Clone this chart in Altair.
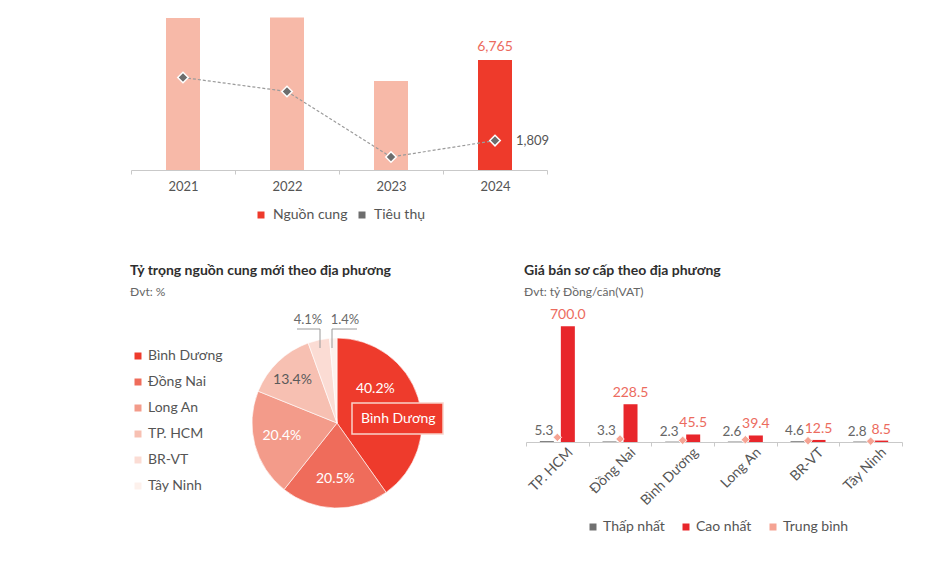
import altair as alt
import pandas as pd

FONT = "Lato"

# ---------------- data ----------------
years = ["2021", "2022", "2023", "2024"]
supply = [9350, 9380, 5470, 6765]          # Nguồn cung
absorption = [5690, 4830, 800, 1809]       # Tiêu thụ

pie_regions = ["Bình Dương", "Đồng Nai", "Long An", "TP. HCM", "BR-VT", "Tây Ninh"]
pie_share = [40.2, 20.5, 20.4, 13.4, 4.1, 1.4]

price_regions = ["TP. HCM", "Đồng Nai", "Bình Dương", "Long An", "BR-VT", "Tây Ninh"]
price_min = [5.3, 3.3, 2.3, 2.6, 4.6, 2.8]
price_max = [700.0, 228.5, 45.5, 39.4, 12.5, 8.5]
price_avg = [28, 18, 10, 14, 8, 5]          # estimated (unlabelled)
price_series = ["Thấp nhất", "Cao nhất", "Trung bình"]

# ---------------- styles ----------------
W, H = 924, 554
RED = "#ee3a2b"
LIGHT = "#f7b9a8"
GRAY = "#6d6d6d"
LBL_RED = "#ec6b5e"
TXT = "#555555"
PIE_COLORS = ["#ee3b2c", "#ef6c5b", "#f39b8a", "#f7c0b2", "#fbdcd4", "#fdf1ec"]
PRICE_COLORS = ["#707070", "#e8262b", "#f5a393"]

top_df = pd.DataFrame({"year": years, "supply": supply, "absorption": absorption})
pie_df = pd.DataFrame({"region": pie_regions, "share": pie_share,
                       "idx": list(range(len(pie_regions)))})
rows = []
for r, lo, hi, av in zip(price_regions, price_min, price_max, price_avg):
    rows.append({"region": r, "series": "Thấp nhất", "value": lo})
    rows.append({"region": r, "series": "Cao nhất", "value": hi})
    rows.append({"region": r, "series": "Trung bình", "value": av})
price_df = pd.DataFrame(rows)

# ---------------- top chart ----------------
top_base_y = 162
top_x = alt.X("year:N",
              scale=alt.Scale(domain=years, range=[123, 539], paddingInner=0, paddingOuter=0),
              axis=alt.Axis(orient="bottom", offset=top_base_y - H, title=None, labelAngle=0,
                            labelFont=FONT, labelFontSize=13, labelColor=TXT, labelPadding=6,
                            domainColor="#c9c9c9", tickColor="#c9c9c9", tickSize=4,
                            tickBand="extent", grid=False))
top_ys = alt.Scale(domain=[0, 10000], range=[top_base_y, -0.6], nice=False)
top_color = alt.Color("series:N",
                      scale=alt.Scale(domain=["Nguồn cung", "Tiêu thụ"], range=[RED, GRAY]),
                      legend=alt.Legend(title=None, orient="none", legendX=246, legendY=200,
                                        direction="horizontal", symbolType="square",
                                        symbolSize=49, symbolStrokeWidth=0, labelFont=FONT,
                                        labelFontSize=14, labelColor=TXT, columnPadding=7,
                                        labelOffset=5))

bars_light = alt.Chart(top_df).transform_filter(alt.datum.year != "2024").mark_bar(
    width=34, color=LIGHT).encode(x=top_x, y=alt.Y("supply:Q", scale=top_ys, axis=None))
bars_hi = alt.Chart(top_df).transform_filter(alt.datum.year == "2024").transform_calculate(
    series="'Nguồn cung'").mark_bar(width=34).encode(
    x=top_x, y=alt.Y("supply:Q", scale=top_ys, axis=None), color=top_color)
line = alt.Chart(top_df).mark_line(color="#9b9b9b", strokeDash=[3, 2], strokeWidth=1.2).encode(
    x=top_x, y=alt.Y("absorption:Q", scale=top_ys, axis=None))
pts = alt.Chart(top_df).transform_calculate(series="'Tiêu thụ'").mark_point(
    shape="diamond", filled=True, size=110, stroke="white", strokeWidth=1.5, opacity=1).encode(
    x=top_x, y=alt.Y("absorption:Q", scale=top_ys, axis=None), color=top_color)
lbl_hi = alt.Chart(top_df).transform_filter(alt.datum.year == "2024").mark_text(
    dy=-13, color=LBL_RED, font=FONT, fontSize=14).encode(
    x=top_x, y=alt.Y("supply:Q", scale=top_ys, axis=None),
    text=alt.Text("supply:Q", format=","))
lbl_abs = alt.Chart(top_df).transform_filter(alt.datum.year == "2024").mark_text(
    dx=21, align="left", color=TXT, font=FONT, fontSize=13).encode(
    x=top_x, y=alt.Y("absorption:Q", scale=top_ys, axis=None),
    text=alt.Text("absorption:Q", format=","))
top = alt.layer(bars_light, bars_hi, line, pts, lbl_hi, lbl_abs)

# ---------------- pie chart ----------------
CX, CY, R = 329, 415, 85
theta_scale = alt.Scale(domain=[0, 100], range=[0, 6.2831853])
arc = alt.Chart(pie_df).mark_arc(outerRadius=R, stroke="white", strokeWidth=0.6).encode(
    theta=alt.Theta("share:Q", scale=theta_scale, stack=True),
    order=alt.Order("idx:Q"),
    color=alt.Color("region:N", scale=alt.Scale(domain=pie_regions, range=PIE_COLORS),
                    legend=alt.Legend(title=None, orient="none", legendX=123, legendY=341,
                                      direction="vertical", symbolType="square", symbolSize=49,
                                      symbolStrokeWidth=0, labelFont=FONT, labelFontSize=14,
                                      labelColor=TXT, rowPadding=12, labelOffset=3)),
    x=alt.value(CX), y=alt.value(CY))

pie_lbl_base = alt.Chart(pie_df).transform_window(
    cum="sum(share)", sort=[alt.SortField("idx")], frame=[None, 0]).transform_calculate(
    mid="datum.cum - datum.share / 2",
    lab="format(datum.share, '.1f') + '%'")


def pie_label(region, r, dx, dy, color, size, field="lab", weight="normal"):
    return pie_lbl_base.transform_filter(alt.datum.region == region).mark_text(
        radius=r, dx=dx, dy=dy, color=color, font=FONT, fontSize=size, fontWeight=weight).encode(
        theta=alt.Theta("mid:Q", scale=theta_scale, stack=False),
        x=alt.value(CX), y=alt.value(CY), text=f"{field}:N")


box = alt.Chart(pie_df).transform_filter(alt.datum.region == "Bình Dương").mark_rect(
    fill=RED, stroke="#f9d2c9", strokeWidth=1.5).encode(
    x=alt.value(344), x2=alt.value(435), y=alt.value(395), y2=alt.value(426))

lead_col = "#9a9a9a"
lead1 = alt.Chart(pie_df).transform_filter(alt.datum.region == "BR-VT").mark_rule(
    color=lead_col, strokeWidth=1).encode(x=alt.value(312), y=alt.value(321), y2=alt.value(340))
lead2 = alt.Chart(pie_df).transform_filter(alt.datum.region == "BR-VT").mark_rule(
    color=lead_col, strokeWidth=1).encode(x=alt.value(289), x2=alt.value(312), y=alt.value(321))
lead3 = alt.Chart(pie_df).transform_filter(alt.datum.region == "Tây Ninh").mark_rule(
    color=lead_col, strokeWidth=1).encode(x=alt.value(324), y=alt.value(321), y2=alt.value(340))
lead4 = alt.Chart(pie_df).transform_filter(alt.datum.region == "Tây Ninh").mark_rule(
    color=lead_col, strokeWidth=1).encode(x=alt.value(324), x2=alt.value(349), y=alt.value(321))

pie = alt.layer(
    arc, box,
    pie_label("Bình Dương", 57, -16, -17, "white", 14),
    pie_label("Bình Dương", 57, 7, 13, "white", 14, field="region"),
    pie_label("Đồng Nai", 57, 0, -1, "white", 14),
    pie_label("Long An", 57, 0, -1.5, "white", 14),
    pie_label("TP. HCM", 57, -5, -2, "#5a5a5a", 14),
    pie_label("BR-VT", 100, -7.5, -5, "#6a6a6a", 13),
    pie_label("Tây Ninh", 100, 12.4, -3, "#6a6a6a", 13),
    lead1, lead2, lead3, lead4,
)

# ---------------- price chart ----------------
pr_base_y = 434
px = alt.X("region:N",
           scale=alt.Scale(domain=price_regions, range=[518, 894], paddingInner=0, paddingOuter=0),
           axis=alt.Axis(orient="bottom", offset=pr_base_y - H, title=None, labelAngle=315,
                         labelAlign="right", labelBaseline="middle", labelOffset=13,
                         labelPadding=4, labelFont=FONT, labelFontSize=14, labelColor=TXT,
                         domainColor="#c9c9c9", tickColor="#c9c9c9", tickSize=4,
                         tickBand="extent", grid=False))
pxo = alt.XOffset("series:N", scale=alt.Scale(domain=["Thấp nhất", "Trung bình", "Cao nhất"],
                                              range=[15.6, 47.1], paddingInner=0,
                                              paddingOuter=0))
pys = alt.Scale(domain=[0, 700], range=[pr_base_y, 318.3], nice=False)
pcolor = alt.Color("series:N", scale=alt.Scale(domain=price_series, range=PRICE_COLORS),
                   legend=alt.Legend(title=None, orient="none", legendX=578, legendY=512,
                                     direction="horizontal", symbolType="square", symbolSize=49,
                                     symbolStrokeWidth=0, labelFont=FONT, labelFontSize=14,
                                     labelColor=TXT, columnPadding=14, labelOffset=3))

pbars = alt.Chart(price_df).transform_filter(alt.datum.series != "Trung bình").mark_bar(
    width=14).encode(x=px, xOffset=pxo, y=alt.Y("value:Q", scale=pys, axis=None), color=pcolor)
ppts = alt.Chart(price_df).transform_filter(alt.datum.series == "Trung bình").mark_point(
    shape="diamond", filled=True, size=72, stroke="white", strokeWidth=0.8, opacity=1).encode(
    x=px, xOffset=pxo, y=alt.Y("value:Q", scale=pys, axis=None), color=pcolor)
plmin = alt.Chart(price_df).transform_filter(alt.datum.series == "Thấp nhất").mark_text(
    dy=-10, dx=-3, color="#666666", font=FONT, fontSize=13.5).encode(
    x=px, xOffset=pxo, y=alt.Y("value:Q", scale=pys, axis=None),
    text=alt.Text("value:Q", format=".1f"))
plmax = alt.Chart(price_df).transform_filter(alt.datum.series == "Cao nhất").mark_text(
    dy=-11, color=LBL_RED, font=FONT, fontSize=14).encode(
    x=px, xOffset=pxo, y=alt.Y("value:Q", scale=pys, axis=None),
    text=alt.Text("value:Q", format=".1f"))
price = alt.layer(pbars, ppts, plmin, plmax)

# ---------------- titles ----------------
def label(text, x, y, size=13, color=TXT, weight="normal"):
    return alt.Chart(pd.DataFrame({"t": [text]})).mark_text(
        align="left", baseline="middle", font=FONT, fontSize=size, color=color,
        fontWeight=weight).encode(x=alt.value(x), y=alt.value(y), text="t:N")


titles = alt.layer(
    label("Tỷ trọng nguồn cung mới theo địa phương", 122, 263, 14, "#2e2e2e", "bold"),
    label("Đvt: %", 122, 284, 12, "#666666"),
    label("Giá bán sơ cấp theo địa phương", 516, 263, 14, "#2e2e2e", "bold"),
    label("Đvt: tỷ Đồng/căn(VAT)", 516, 284, 12, "#666666"),
)

chart = alt.layer(top, pie, price, titles).resolve_scale(
    x="independent", y="independent", color="independent", theta="independent",
    xOffset="independent").properties(
    width=W, height=H, autosize=alt.AutoSizeParams(type="none"), padding=0
).configure_view(strokeWidth=0)

chart.save("out.html", embed_options={"renderer": "svg", "actions": False})
